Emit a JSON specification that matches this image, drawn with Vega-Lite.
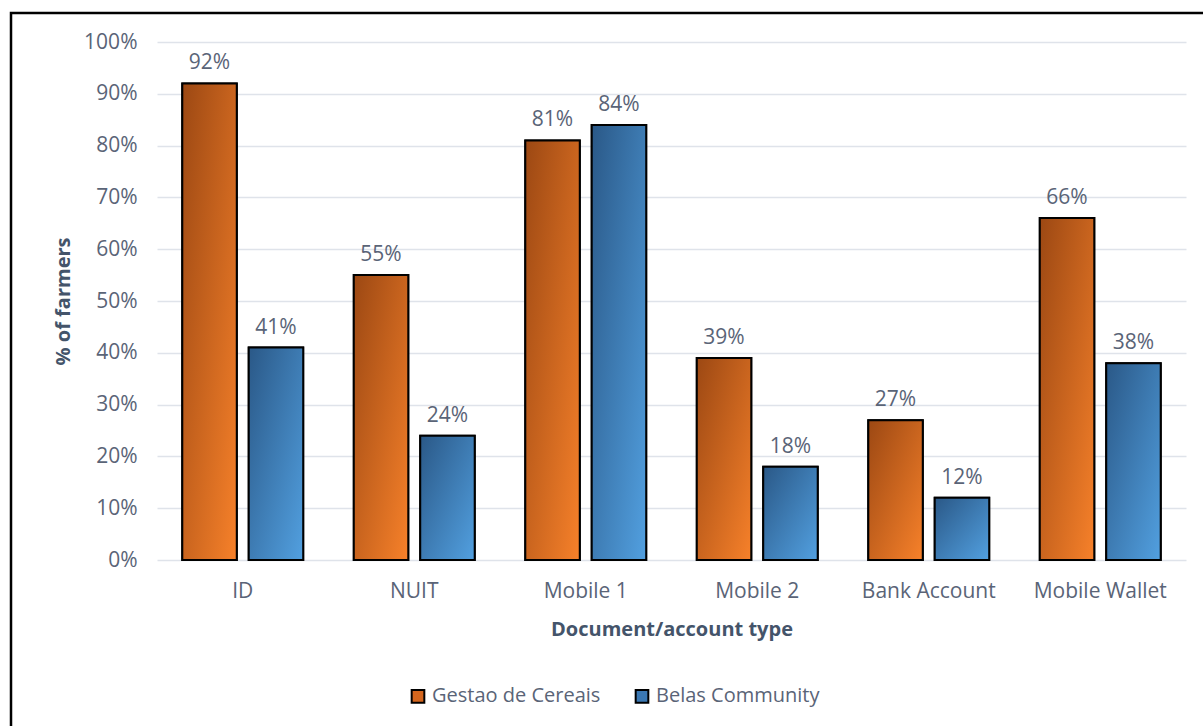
{
  "$schema": "https://vega.github.io/schema/vega-lite/v6.json",
  "width": 1200,
  "height": 720,
  "autosize": {"type": "none"},
  "padding": {"left": 11, "top": 13, "right": 0, "bottom": 0},
  "background": "white",
  "config": {
    "font": "Open Sans",
    "view": {"stroke": "#000000", "strokeWidth": 2.5},
    "axis": {
      "labelColor": "#5a6477",
      "labelFontSize": 21,
      "labelFont": "Open Sans",
      "titleColor": "#44546a",
      "titleFont": "Open Sans",
      "titleFontSize": 20,
      "titleFontWeight": "bold",
      "ticks": false,
      "domain": false
    }
  },
  "data": {
    "values": [
      {"type": "ID", "series": "Gestao de Cereais", "pct": 92},
      {"type": "ID", "series": "Belas Community", "pct": 41},
      {"type": "NUIT", "series": "Gestao de Cereais", "pct": 55},
      {"type": "NUIT", "series": "Belas Community", "pct": 24},
      {"type": "Mobile 1", "series": "Gestao de Cereais", "pct": 81},
      {"type": "Mobile 1", "series": "Belas Community", "pct": 84},
      {"type": "Mobile 2", "series": "Gestao de Cereais", "pct": 39},
      {"type": "Mobile 2", "series": "Belas Community", "pct": 18},
      {"type": "Bank Account", "series": "Gestao de Cereais", "pct": 27},
      {"type": "Bank Account", "series": "Belas Community", "pct": 12},
      {"type": "Mobile Wallet", "series": "Gestao de Cereais", "pct": 66},
      {"type": "Mobile Wallet", "series": "Belas Community", "pct": 38}
    ]
  },
  "encoding": {
    "x": {
      "field": "type",
      "type": "nominal",
      "sort": null,
      "scale": {"range": [146, 1175], "paddingInner": 0.295, "paddingOuter": 0.1475},
      "axis": {
        "orient": "bottom",
        "offset": -173,
        "labelAngle": 0,
        "labelPadding": 20,
        "grid": false,
        "title": "Document/account type",
        "titlePadding": 18
      }
    },
    "xOffset": {
      "field": "series",
      "type": "nominal",
      "sort": ["Gestao de Cereais", "Belas Community"],
      "scale": {"paddingInner": 0.18, "paddingOuter": 0}
    },
    "y": {
      "field": "pct",
      "type": "quantitative",
      "scale": {"domain": [0, 100], "range": [547, 29], "nice": false},
      "axis": {
        "orient": "left",
        "offset": -146,
        "values": [0, 10, 20, 30, 40, 50, 60, 70, 80, 90, 100],
        "labelExpr": "datum.value + '%'",
        "labelPadding": 20,
        "grid": true,
        "gridColor": "#dfe3ea",
        "gridWidth": 1.5,
        "title": "% of farmers",
        "titlePadding": 10
      }
    }
  },
  "layer": [
    {
      "mark": {"type": "bar", "stroke": "#000000", "strokeWidth": 2},
      "encoding": {
        "color": {
          "field": "series",
          "type": "nominal",
          "scale": {
            "domain": ["Gestao de Cereais", "Belas Community"],
            "range": ["#d4661e", "#3b78b3"]
          },
          "legend": {
            "title": null,
            "orient": "none",
            "legendX": 397,
            "legendY": 673,
            "direction": "horizontal",
            "symbolType": "square",
            "symbolSize": 160,
            "symbolStrokeColor": "#000000",
            "symbolStrokeWidth": 2,
            "labelFontSize": 20,
            "labelColor": "#5a6477",
            "labelFont": "Open Sans",
            "labelLimit": 0,
            "labelOffset": 4,
            "columnPadding": 30
          }
        }
      }
    },
    {
      "mark": {"type": "bar", "stroke": "#000000", "strokeWidth": 2},
      "encoding": {
        "fill": {
          "condition": {
            "test": "datum.series === 'Gestao de Cereais'",
            "value": {
              "gradient": "linear",
              "x1": 0, "y1": 0, "x2": 1, "y2": 1,
              "stops": [
                {"offset": 0, "color": "#9c4813"},
                {"offset": 1, "color": "#f7812a"}
              ]
            }
          },
          "value": {
            "gradient": "linear",
            "x1": 0, "y1": 0, "x2": 1, "y2": 1,
            "stops": [
              {"offset": 0, "color": "#2a5887"},
              {"offset": 1, "color": "#52a0e0"}
            ]
          }
        }
      }
    },
    {
      "mark": {
        "type": "text",
        "baseline": "alphabetic",
        "dy": -14,
        "fontSize": 21,
        "font": "Open Sans",
        "color": "#5a6477",
        "text": {"expr": "datum.pct + '%'"}
      },
      "encoding": {}
    }
  ]
}
